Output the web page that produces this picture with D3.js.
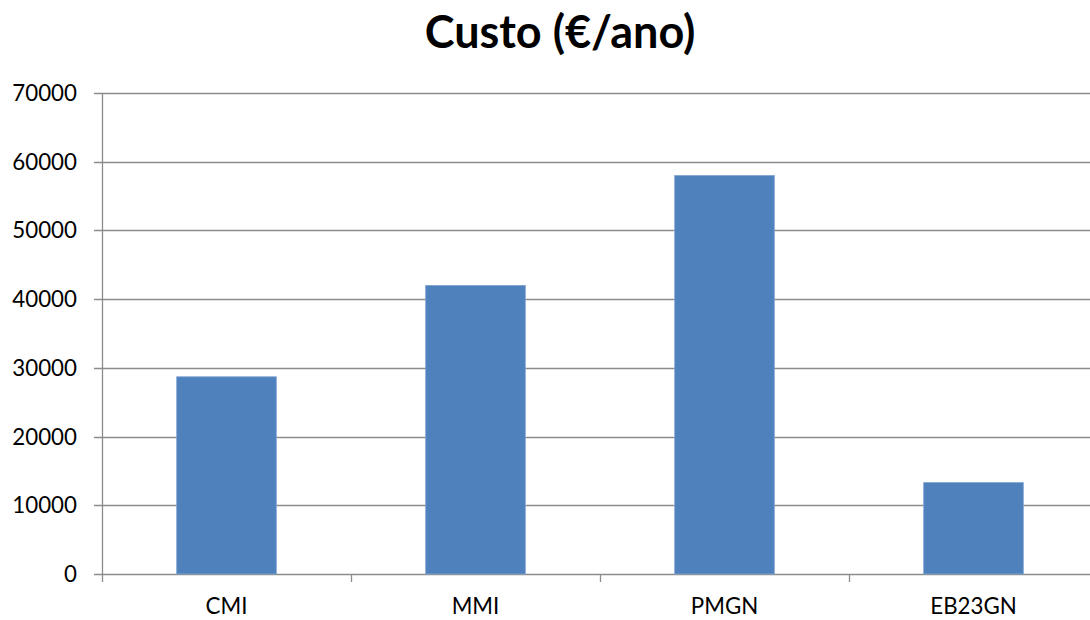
<!DOCTYPE html>
<html>
<head>
<meta charset="utf-8">
<script src="https://cdn.jsdelivr.net/npm/d3@7"></script>
<style>
  body { margin: 0; background: #fff; }
  text { font-family: Lato, "Open Sans", sans-serif; fill: #000; }
</style>
</head>
<body>
<div id="chart"></div>
<script>
const categories = ["CMI", "MMI", "PMGN", "EB23GN"];
const values = [28700, 42000, 58000, 13300];
const yTicks = [0, 10000, 20000, 30000, 40000, 50000, 60000, 70000];

const width = 1090,
  height = 620,
  margin = { top: 93, bottom: 46, left: 102, right: -8 };

const svg = d3.select("#chart")
  .append("svg")
  .attr("width", width)
  .attr("height", height);

const x = d3.scaleBand()
  .domain(categories)
  .range([margin.left, width - margin.right])
  .paddingInner(0.6)
  .paddingOuter(0.3);

const y = d3.scaleLinear()
  .domain([0, 70000])
  .range([height - margin.bottom, margin.top]);

// gridlines
svg.append("g")
  .selectAll("line")
  .data(yTicks)
  .join("line")
  .attr("x1", margin.left - 8)
  .attr("x2", width)
  .attr("y1", d => Math.round(y(d)) + 0.5)
  .attr("y2", d => Math.round(y(d)) + 0.5)
  .attr("stroke", "#8c8c8c")
  .attr("stroke-width", 1.3);

// y labels
svg.append("g")
  .selectAll("text")
  .data(yTicks)
  .join("text")
  .attr("x", 77)
  .attr("y", d => y(d) + 8)
  .attr("text-anchor", "end")
  .attr("font-size", 22.3)
  .text(d => d);

// bars
svg.append("g")
  .selectAll("rect")
  .data(values)
  .join("rect")
  .attr("x", (d, i) => x(categories[i]))
  .attr("width", x.bandwidth())
  .attr("y", d => y(d))
  .attr("height", d => y(0) - y(d))
  .attr("fill", "#4f81bd")
  .attr("stroke", "#7fa3d3")
  .attr("stroke-width", 0.8);

// y axis line
svg.append("line")
  .attr("x1", margin.left + 0.5)
  .attr("x2", margin.left + 0.5)
  .attr("y1", y(70000))
  .attr("y2", y(0) + 8)
  .attr("stroke", "#8c8c8c")
  .attr("stroke-width", 1.3);

// x tick marks at category boundaries
const step = x.step();
const bounds = d3.range(1, categories.length).map(i => x(categories[i]) - x.paddingInner() * step / 2);
svg.append("g")
  .selectAll("line")
  .data(bounds)
  .join("line")
  .attr("x1", d => Math.round(d) + 0.5)
  .attr("x2", d => Math.round(d) + 0.5)
  .attr("y1", y(0))
  .attr("y2", y(0) + 8)
  .attr("stroke", "#8c8c8c")
  .attr("stroke-width", 1.3);

// x labels
svg.append("g")
  .selectAll("text")
  .data(categories)
  .join("text")
  .attr("x", d => x(d) + x.bandwidth() / 2)
  .attr("y", 614)
  .attr("text-anchor", "middle")
  .attr("font-size", 22.3)
  .text(d => d);

// title
svg.append("text")
  .attr("x", 560)
  .attr("y", 48)
  .attr("text-anchor", "middle")
  .attr("font-size", 45)
  .attr("font-weight", "bold")
  .text("Custo (€/ano)");
</script>
</body>
</html>
